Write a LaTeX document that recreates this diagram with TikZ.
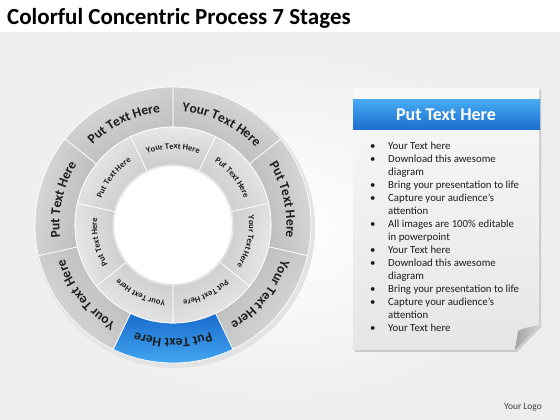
\documentclass[tikz,border=0pt]{standalone}
\usepackage{fontspec}
\setmainfont{Carlito}
\usetikzlibrary{decorations.text}
\definecolor{ringblue}{HTML}{1A6CCF}
\definecolor{ringblueL}{HTML}{46AAF2}
\definecolor{ink}{HTML}{1C1C1C}
\newcommand{\outerfont}{\bfseries\fontsize{13.5}{13.5}\selectfont}
\newcommand{\innerfont}{\bfseries\fontsize{8.5}{8.5}\selectfont}
\tikzset{
  outerseg/.style={left color=gray!56, right color=gray!28, draw=white, line width=0.7pt},
  blueseg/.style={left color=ringblue, right color=ringblueL, draw=white, line width=0.7pt},
  innerseg/.style={left color=gray!42, right color=gray!16, draw=white, line width=0.7pt},
  listline/.style={anchor=base west, inner sep=0pt, font=\fontsize{10.8}{12}\selectfont, text=ink},
}
\begin{document}
\begin{tikzpicture}[x=1pt,y=1pt]
  \useasboundingbox (0,0) rectangle (560,420);
  % background
  \fill[white] (0,0) rectangle (560,420);
  \shade[inner color=white, outer color=gray!14] (0,0) rectangle (560,387);
  \node[anchor=base west, inner sep=0pt, font=\bfseries\fontsize{23}{23}\selectfont] (title) at (7,395) {Colorful Concentric Process 7 Stages};

  \begin{scope}[shift={(173,195)}]
    % soft shadow
    \fill[gray!22] (2,-3) circle (140);
    % outer ring
    \foreach \lab/\sty [count=\k from 0, evaluate=\k as \a using 90-\k*360/7,
        evaluate=\k as \b using 90-(\k+1)*360/7, evaluate=\k as \s using 180-(\k+0.5)*360/7]
        in {Your/outerseg, Put/outerseg, Your/outerseg, Put/blueseg, Your/outerseg, Put/outerseg, Put/outerseg} {
      \shade[\sty, shading angle=\s] (\a:138) arc[start angle=\a, end angle=\b, radius=138]
        -- (\b:98) arc[start angle=\b, end angle=\a, radius=98] -- cycle;
      \path[decorate, decoration={text along path, text align=center, text color=ink,
        text/.expanded={|\noexpand\outerfont|\lab\space Text Here}}]
        (\a:113.5) arc[start angle=\a, end angle=\b, radius=113.5];
    }
    % inner ring
    \foreach \lab [count=\k from 0, evaluate=\k as \a using 90-(\k-0.5)*360/7,
        evaluate=\k as \b using 90-(\k+0.5)*360/7, evaluate=\k as \s using 180-\k*360/7]
        in {Your, Put, Your, Put, Your, Put, Put} {
      \shade[innerseg, shading angle=\s] (\a:98) arc[start angle=\a, end angle=\b, radius=98]
        -- (\b:60) arc[start angle=\b, end angle=\a, radius=60] -- cycle;
      \path[decorate, decoration={text along path, text align=center, text color=ink,
        text/.expanded={|\noexpand\innerfont|\lab\space Text Here}}]
        (\a:76) arc[start angle=\a, end angle=\b, radius=76];
    }
    % hole
    \fill[white] (0,0) circle (60);
    \draw[gray!25, line width=1pt] (0,0) circle (59.5);
  \end{scope}

  % note sheet
  \fill[gray!40] (355,330) -- (541,330) -- (541,93) -- (517,68) -- (355,68) -- cycle;
  \shade[top color=gray!5, bottom color=gray!20] (353,332) -- (539,332) -- (539,95) -- (515,70) -- (353,70) -- cycle;
  \shade[left color=gray!72, right color=gray!38] (539,95) .. controls (529,93) and (521,91) .. (518,89)
    .. controls (517,82) and (516,76) .. (515,70) -- cycle;
  \shade[top color=ringblueL, bottom color=ringblue] (353,320) rectangle (540,290);
  \node[font=\bfseries\fontsize{18}{18}\selectfont, text=white] (head) at (446,305) {Put Text Here};
  \foreach \txt/\bul [count=\n from 0] in {Your Text here/1, Download this awesome/1, diagram/0,
      Bring your presentation to life/1, Capture your audience’s/1, attention/0,
      All images are 100\% editable/1, in powerpoint/0, Your Text here/1, Download this awesome/1,
      diagram/0, Bring your presentation to life/1, Capture your audience’s/1, attention/0, Your Text here/1} {
    \node[listline] (line\n) at (388,270-\n*13) {\txt};
    \ifnum\bul=1 \node[listline] (dot\n) at (370,270-\n*13) {•}; \fi
  }
  \node[font=\fontsize{9.5}{9.5}\selectfont, text=ink!85] (logo) at (523,13) {Your Logo};
\end{tikzpicture}
\end{document}
